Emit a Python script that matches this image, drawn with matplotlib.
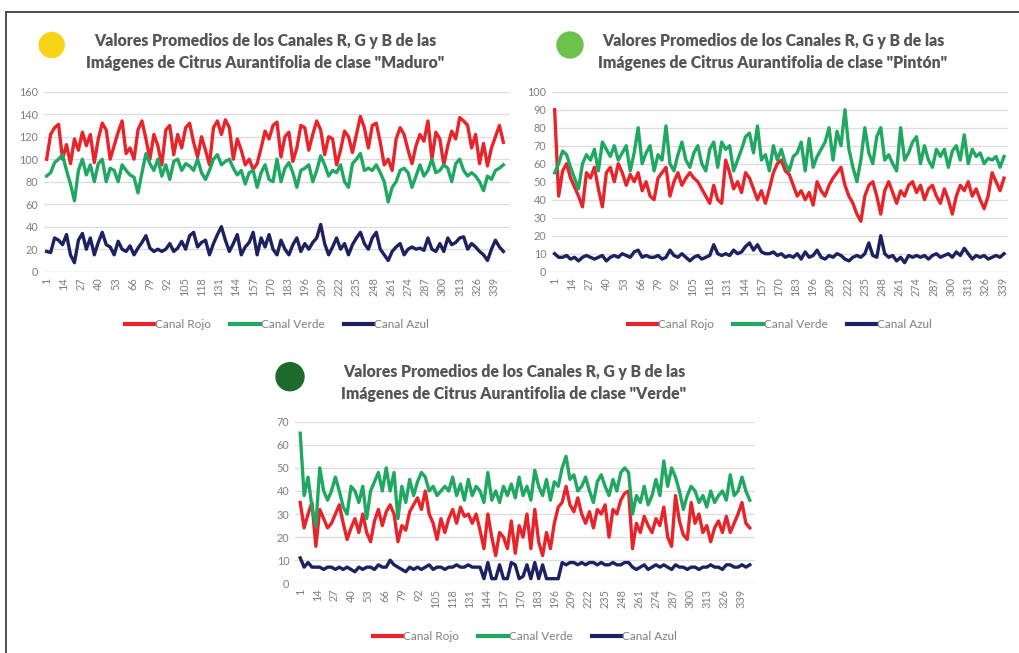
import numpy as np
import matplotlib
matplotlib.use("Agg")
import matplotlib.pyplot as plt
from matplotlib.patches import Circle
from matplotlib.lines import Line2D

plt.rcParams['font.family'] = ['Lato', 'DejaVu Sans']

# mean channel values, read every 3rd image (image 1, 4, 7, ...)
step = 3

maduro_rojo = [100, 122, 128, 131, 100, 113, 96, 118, 108, 124,
               112, 122, 97, 118, 132, 126, 100, 112, 124, 134,
               105, 110, 100, 126, 134, 118, 100, 122, 112, 95,
               126, 130, 104, 122, 110, 128, 132, 115, 102, 120,
               108, 95, 128, 134, 122, 135, 128, 100, 118, 108,
               95, 100, 91, 96, 110, 125, 118, 130, 133, 102,
               120, 124, 98, 110, 130, 128, 108, 122, 134, 126,
               104, 120, 118, 95, 108, 125, 120, 106, 122, 138,
               128, 110, 130, 132, 115, 95, 100, 90, 118, 128,
               122, 108, 96, 112, 122, 116, 134, 100, 124, 118,
               95, 112, 125, 118, 137, 134, 130, 110, 122, 96,
               114, 94, 110, 120, 130, 115]
maduro_verde = [85, 88, 97, 100, 104, 90, 78, 63, 90, 100,
                86, 95, 80, 96, 100, 80, 92, 90, 80, 95,
                90, 86, 84, 70, 88, 105, 96, 90, 100, 85,
                95, 82, 98, 100, 90, 96, 94, 90, 100, 88,
                82, 90, 100, 104, 95, 98, 100, 92, 86, 90,
                78, 88, 90, 75, 88, 95, 82, 80, 100, 80,
                92, 97, 88, 75, 90, 92, 95, 80, 90, 103,
                95, 85, 90, 88, 95, 80, 75, 96, 100, 105,
                90, 92, 90, 95, 88, 80, 62, 75, 80, 90,
                92, 88, 75, 85, 95, 85, 90, 100, 88, 90,
                95, 92, 80, 96, 100, 90, 85, 88, 85, 80,
                72, 85, 82, 90, 92, 95]
maduro_azul = [18, 17, 30, 28, 24, 33, 15, 8, 28, 34,
               20, 30, 15, 26, 35, 24, 22, 15, 27, 20,
               18, 23, 15, 21, 26, 32, 21, 18, 20, 18,
               20, 25, 18, 21, 27, 20, 32, 35, 22, 26,
               28, 15, 25, 33, 40, 28, 18, 25, 33, 15,
               22, 26, 35, 15, 30, 22, 33, 20, 15, 28,
               20, 15, 24, 30, 18, 25, 20, 26, 30, 42,
               25, 15, 22, 30, 20, 25, 15, 24, 30, 35,
               25, 20, 30, 35, 20, 15, 10, 18, 22, 25,
               15, 20, 22, 20, 21, 19, 30, 20, 18, 25,
               18, 30, 24, 26, 30, 31, 20, 25, 22, 18,
               15, 10, 20, 28, 22, 18]

pinton_rojo = [90, 42, 56, 60, 52, 47, 42, 36, 55, 52,
               58, 46, 36, 55, 58, 50, 60, 55, 48, 54,
               50, 55, 45, 50, 42, 40, 52, 55, 58, 42,
               50, 55, 48, 52, 55, 52, 50, 46, 42, 38,
               48, 40, 38, 62, 55, 46, 50, 44, 55, 52,
               46, 40, 45, 38, 46, 55, 60, 62, 56, 54,
               48, 42, 45, 40, 44, 37, 50, 45, 42, 48,
               52, 55, 58, 48, 42, 38, 32, 28, 42, 48,
               50, 42, 32, 45, 50, 44, 38, 45, 42, 48,
               50, 44, 48, 40, 46, 48, 42, 38, 46, 40,
               32, 42, 48, 45, 50, 42, 46, 40, 35, 42,
               55, 50, 45, 52]
pinton_verde = [55, 60, 67, 65, 58, 52, 46, 60, 65, 62,
                68, 56, 72, 68, 64, 70, 62, 66, 70, 56,
                66, 80, 60, 66, 70, 56, 65, 62, 81, 60,
                56, 65, 72, 62, 58, 66, 70, 60, 56, 68,
                72, 58, 72, 68, 70, 56, 62, 68, 75, 77,
                66, 81, 62, 65, 56, 70, 62, 68, 60, 56,
                64, 66, 72, 56, 74, 58, 64, 68, 72, 80,
                62, 78, 70, 90, 68, 58, 50, 62, 80, 66,
                60, 75, 80, 62, 65, 60, 56, 80, 62, 66,
                72, 75, 60, 70, 62, 58, 68, 64, 68, 58,
                67, 70, 62, 76, 60, 68, 64, 66, 60, 63,
                62, 64, 58, 64]
pinton_azul = [10, 8, 8, 9, 7, 8, 6, 8, 9, 8,
               7, 8, 9, 6, 8, 9, 8, 10, 9, 8,
               11, 12, 8, 9, 8, 8, 9, 7, 8, 12,
               9, 8, 10, 8, 6, 8, 9, 7, 8, 9,
               15, 10, 9, 10, 9, 12, 10, 11, 14, 16,
               12, 15, 11, 10, 10, 11, 9, 10, 8, 9,
               8, 10, 7, 11, 8, 9, 12, 8, 7, 9,
               8, 10, 9, 7, 6, 8, 9, 8, 10, 16,
               9, 8, 20, 10, 8, 9, 6, 8, 5, 9,
               8, 9, 8, 9, 7, 9, 10, 8, 9, 10,
               8, 11, 9, 13, 10, 7, 9, 8, 9, 7,
               8, 9, 8, 10]

verde_rojo = [35, 24, 30, 35, 16, 32, 28, 24, 26, 30,
              34, 26, 19, 24, 28, 22, 30, 22, 18, 27,
              32, 25, 31, 34, 30, 18, 25, 23, 31, 34,
              37, 32, 40, 30, 26, 19, 28, 22, 28, 32,
              26, 33, 29, 30, 26, 30, 23, 15, 30, 20,
              12, 22, 20, 15, 27, 13, 25, 20, 30, 15,
              32, 18, 12, 22, 15, 26, 33, 35, 42, 34,
              31, 37, 30, 26, 31, 24, 32, 30, 34, 20,
              32, 30, 36, 39, 40, 15, 26, 22, 29, 25,
              22, 28, 25, 33, 20, 16, 38, 27, 21, 19,
              35, 26, 30, 22, 25, 18, 24, 27, 22, 29,
              22, 26, 30, 35, 26, 24]
verde_verde = [65, 38, 46, 33, 25, 50, 40, 36, 40, 46,
               40, 33, 30, 42, 40, 35, 42, 28, 40, 44,
               48, 40, 50, 40, 48, 28, 42, 35, 45, 38,
               44, 48, 46, 40, 42, 38, 40, 42, 40, 46,
               38, 43, 36, 45, 38, 42, 40, 35, 48, 36,
               40, 35, 42, 38, 43, 37, 46, 38, 42, 36,
               49, 42, 38, 45, 36, 44, 42, 50, 55, 45,
               47, 40, 42, 46, 40, 35, 44, 47, 42, 38,
               45, 40, 48, 50, 48, 30, 38, 35, 42, 34,
               38, 45, 38, 53, 42, 50, 46, 40, 32, 38,
               42, 40, 35, 38, 33, 40, 35, 38, 40, 36,
               47, 38, 40, 46, 40, 36]
verde_azul = [11, 7, 9, 7, 7, 7, 6, 7, 7, 6,
              7, 6, 7, 6, 5, 7, 6, 7, 7, 6,
              8, 7, 7, 10, 8, 7, 6, 5, 7, 6,
              7, 6, 7, 8, 6, 7, 7, 6, 7, 7,
              8, 7, 7, 8, 7, 7, 7, 2, 9, 2,
              2, 8, 2, 2, 9, 8, 2, 3, 8, 2,
              9, 2, 8, 2, 2, 2, 2, 9, 8, 9,
              9, 8, 9, 8, 9, 9, 8, 9, 8, 8,
              9, 8, 8, 9, 9, 7, 6, 7, 8, 6,
              7, 8, 7, 8, 7, 6, 8, 7, 7, 6,
              7, 7, 6, 7, 7, 8, 7, 7, 6, 8,
              8, 7, 7, 8, 7, 8]

tick_labels = list(range(1, 340, 13))
series_names = ["Canal Rojo", "Canal Verde", "Canal Azul"]
line_colors = ["#e8242b", "#20a862", "#1c2160"]

W, H = 1019, 653
fig = plt.figure(figsize=(W / 100, H / 100), dpi=100)
grey = "#7f7f7f"
title_grey = "#555555"


def px_axes(left, top, right, bottom):
    return fig.add_axes([left / W, 1 - bottom / H, (right - left) / W, (bottom - top) / H])


def draw_panel(ax, rojo, verde, azul, ymax, ystep, xlim, legend_y):
    x = np.arange(len(rojo)) * step + 1
    for vals, name, col in zip([rojo, verde, azul], series_names, line_colors):
        ax.plot(x, vals, color=col, lw=2.4, label=name)
    ax.set_ylim(0, ymax)
    ax.set_yticks(np.arange(0, ymax + 1, ystep))
    ax.set_xlim(*xlim)
    ax.set_xticks(tick_labels)
    ax.set_xticklabels([str(t) for t in tick_labels], rotation=90)
    ax.tick_params(length=0, colors=grey, labelsize=7.8, pad=4)
    ax.grid(axis='y', color="#dcdcdc", lw=0.9)
    ax.set_axisbelow(True)
    for s in ax.spines.values():
        s.set_visible(False)
    ax.axhline(0, color="#d0d0d0", lw=0.9, zorder=0)
    leg = ax.legend(loc='center', bbox_to_anchor=(0.5, legend_y), ncol=3, frameon=False,
                    fontsize=8.5, handlelength=2.5, handletextpad=0.1, columnspacing=1.6)
    for line in leg.get_lines():
        line.set_linewidth(3)
    for t in leg.get_texts():
        t.set_color(grey)


def title(cx, y1, clase):
    fig.text(cx / W, 1 - y1 / H, "Valores Promedios de los Canales R, G y B de las",
             ha='center', va='center', fontsize=11.3, fontweight='heavy', color=title_grey)
    fig.text(cx / W, 1 - (y1 + 22.5) / H,
             "Imágenes de Citrus Aurantifolia de clase \"" + clase + "\"",
             ha='center', va='center', fontsize=11.3, fontweight='heavy', color=title_grey)


ax1 = px_axes(44, 91.7, 510, 271.7)
draw_panel(ax1, maduro_rojo, maduro_verde, maduro_azul, 160, 20, (-1, 351), -0.296)
ax2 = px_axes(552, 91.7, 1008, 271.7)
draw_panel(ax2, pinton_rojo, pinton_verde, pinton_azul, 100, 10, (-1, 343), -0.296)
ax3 = px_axes(295, 421.7, 755, 583.3)
draw_panel(ax3, verde_rojo, verde_verde, verde_azul, 70, 10, (-3, 350), -0.332)

title(265, 40.7, "Maduro")
title(773, 40.7, "Pintón")
title(514, 371.7, "Verde")

# class markers
for (cx, cy, r, col) in [(51.7, 45, 12.5, "#f7d417"), (570, 45, 13, "#6bc24c"),
                         (290, 376.7, 14, "#1d6b2c")]:
    fig.add_artist(Circle((cx / 100, (H - cy) / 100), r / 100, color=col,
                          transform=fig.dpi_scale_trans))

# scan frame
fig.add_artist(Line2D([6 / W, 1], [1 - 12 / H, 1 - 12 / H], color="#404040", lw=1.3,
                      transform=fig.transFigure))
fig.add_artist(Line2D([6 / W, 6 / W], [0, 1 - 12 / H], color="#404040", lw=1.3,
                      transform=fig.transFigure))

fig.savefig("out.png", dpi=100, facecolor="white")
